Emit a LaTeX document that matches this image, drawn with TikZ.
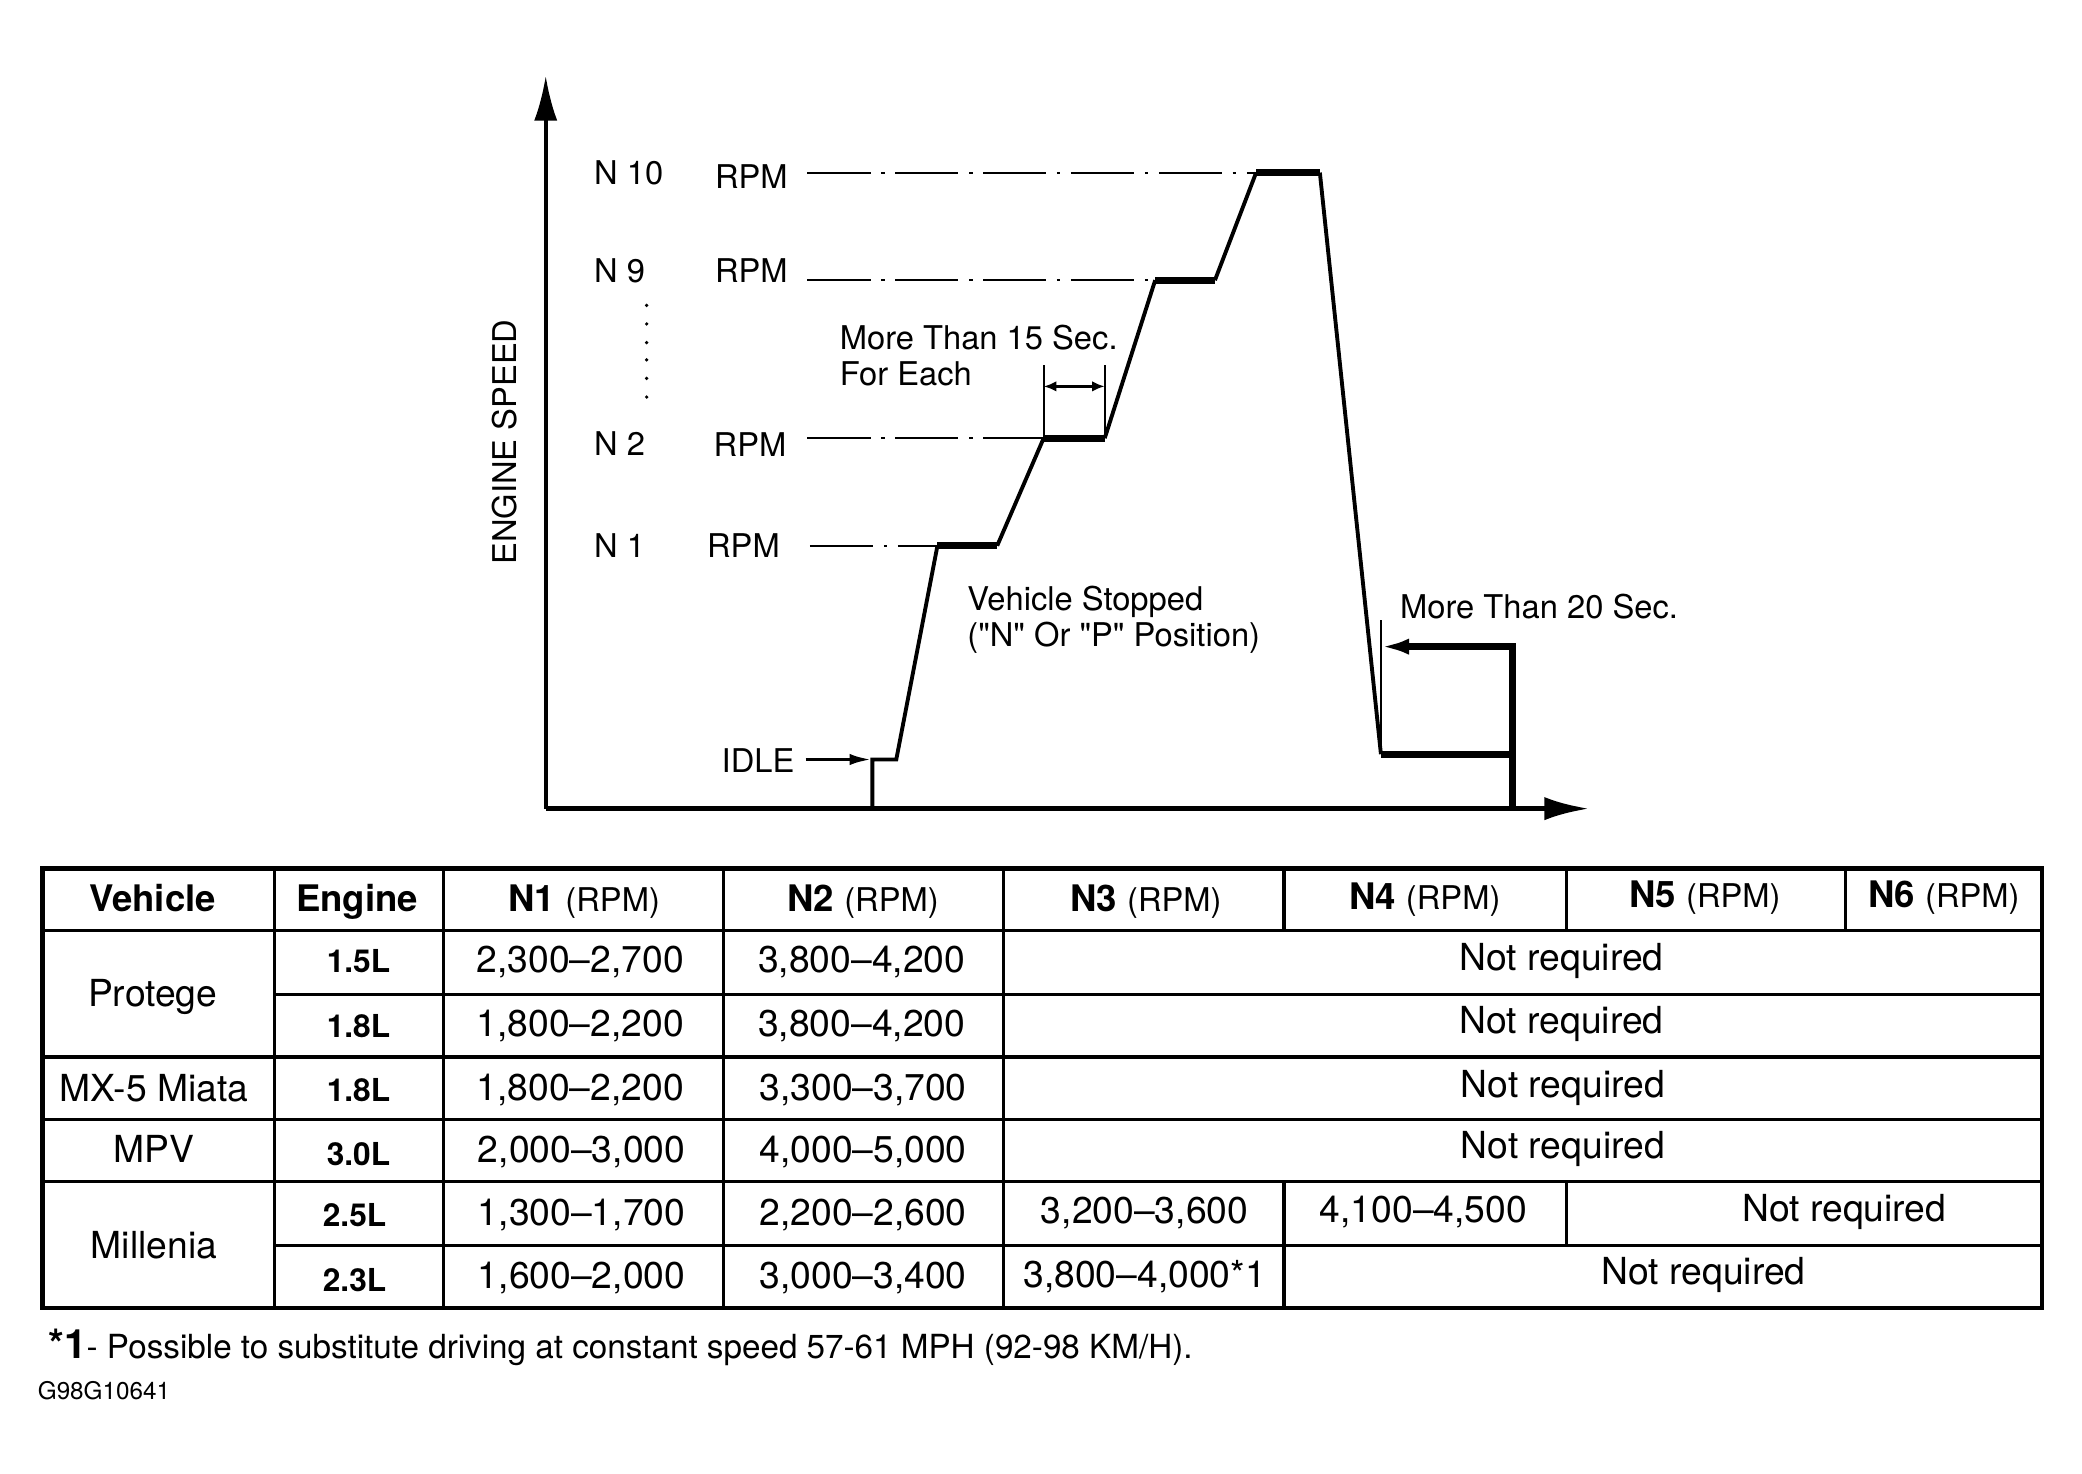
\documentclass[tikz,border=0pt]{standalone}
\usepackage{fontspec}
\setmainfont{TeX Gyre Heros}
\newfontfamily\quotefont{TeX Gyre Heros}
\usetikzlibrary{arrows.meta}

\tikzset{
  axisline/.style={line width=1.5pt},
  trace/.style={line width=1.1pt},
  dwell/.style={line width=1.9pt},
  refline/.style={line width=0.6pt,dash pattern=on 18pt off 3pt on 1pt off 3pt},
  thinline/.style={line width=0.5pt},
  lbl/.style={font=\fontsize{9.3}{10.2}\selectfont,inner sep=0pt},
  frame/.style={line width=1.3pt},
  gridline/.style={line width=0.9pt},
  cell/.style={font=\fontsize{10.6}{12}\selectfont,inner sep=0pt,text height=1.4ex,text depth=0pt},
  hdr/.style={font=\bfseries\fontsize{10.4}{12}\selectfont,inner sep=0pt,text height=1.4ex,text depth=0pt},
  eng/.style={font=\bfseries\fontsize{9}{11}\selectfont,inner sep=0pt,text height=1.4ex,text depth=0pt},
}
\newcommand{\rpmunit}{{\mdseries\fontsize{9.3}{10}\selectfont(RPM)}}
\newcommand{\dq}{{\quotefont"}}

\begin{document}
\begin{tikzpicture}[x=0.013278cm,y=-0.013278cm]
\useasboundingbox (0,0) rectangle (1568,1110);

% axes
\coordinate (O) at (411,609);
\coordinate (ytop) at (411,57);
\coordinate (xend) at (1197,609);
\draw[line width=1.1pt,-{Latex[length=12.8pt,width=6.6pt]}] (O) -- (ytop);
\draw[axisline,-{Latex[length=12.8pt,width=6.6pt]}] (O) -- (xend);
\node[lbl,rotate=90] (yaxis) at (380,333) {ENGINE SPEED};

% speed trace
\coordinate (s0) at (657,609);
\coordinate (i1) at (657,572);
\coordinate (i2) at (675,572);
\coordinate (a1) at (706,411);
\coordinate (a2) at (751,411);
\coordinate (b1) at (786,330);
\coordinate (b2) at (832,330);
\coordinate (c1) at (870,211);
\coordinate (c2) at (915,211);
\coordinate (d1) at (946,130);
\coordinate (d2) at (994,130);
\coordinate (e1) at (1040,568);
\coordinate (e2) at (1139,568);
\coordinate (e0) at (1139,609);
\draw[trace] (s0) -- (i1) -- (i2) -- (a1);
\draw[trace] (a2) -- (b1);
\draw[trace] (b2) -- (c1);
\draw[trace] (c2) -- (d1);
\draw[trace] (d2) -- (e1);
\draw[dwell] (a1) -- (a2);
\draw[dwell] (b1) -- (b2);
\draw[dwell] (c1) -- (c2);
\draw[dwell] (d1) -- (d2);
\draw[dwell] (e1) -- (e2);
\draw[dwell] (e0) -- (e2);

% speed levels
\node[lbl,anchor=west] (n10) at (447,130) {N 10};
\node[lbl,anchor=west] (r10) at (538,133) {RPM};
\node[lbl,anchor=west] (n9) at (447,204) {N 9};
\node[lbl,anchor=west] (r9) at (538,204) {RPM};
\node[lbl,anchor=west] (n2) at (447,334) {N 2};
\node[lbl,anchor=west] (r2) at (537,335) {RPM};
\node[lbl,anchor=west] (n1) at (447,411) {N 1};
\node[lbl,anchor=west] (r1) at (532,411) {RPM};
\draw[refline] (608,130) -- (d1);
\draw[refline] (608,211) -- (c1);
\draw[refline] (608,330) -- (b1);
\draw[refline] (610,411) -- (a1);
\foreach \dy in {230,244,258,271,285,299}
  \fill (487,\dy) circle (1.4);

% idle
\node[lbl,anchor=west] (idle) at (543,573) {IDLE};
\draw[line width=1.1pt,-{Latex[length=6.5pt,width=3.2pt]}] (idle.east) ++(8,-1) -- (i1);

% dwell time
\coordinate (t1) at (786,275);
\coordinate (t2) at (832,275);
\draw[thinline] (t1) -- (b1);
\draw[thinline] (t2) -- (b2);
\draw[line width=0.9pt,{Latex[length=3.6pt,width=3pt]}-{Latex[length=3.6pt,width=3pt]}] (786,291) -- (832,291);
\node[lbl,anchor=west,align=left] (dwelltxt) at (632,268) {More Than 15 Sec.\\For Each};
\node[lbl,anchor=west,align=left] (stoptxt) at (728,467) {Vehicle Stopped\\(\dq N\dq{} Or \dq P\dq{} Position)};

% cool down
\coordinate (f1) at (1139,487);
\coordinate (f2) at (1040,487);
\draw[thinline] (1040,467) -- (e1);
\draw[dwell,-{Latex[length=8pt,width=4.6pt]}] (e2) -- (f1) -- (f2);
\node[lbl,anchor=west] (cooltxt) at (1054,457) {More Than 20 Sec.};

% table
\draw[frame] (32,654) rectangle (1538,985);
\draw[gridline] (32,701) -- (1538,701);
\draw[gridline] (207,749) -- (1538,749);
\draw[gridline] (32,796) -- (1538,796);
\draw[gridline] (32,843) -- (1538,843);
\draw[gridline] (32,890) -- (1538,890);
\draw[gridline] (207,938) -- (1538,938);
\draw[gridline] (207,654) -- (207,985);
\draw[gridline] (334,654) -- (334,985);
\draw[gridline] (545,654) -- (545,985);
\draw[gridline] (756,654) -- (756,985);
\draw[gridline] (967,654) -- (967,701);
\draw[gridline] (1180,654) -- (1180,701);
\draw[gridline] (1390,654) -- (1390,701);
\draw[gridline] (967,890) -- (967,985);
\draw[gridline] (1180,890) -- (1180,938);

\node[hdr] (hveh) at (115,677) {Vehicle};
\node[hdr] (heng) at (269,677) {Engine};
\node[hdr] (hn1) at (440,677) {N1 \rpmunit};
\node[hdr] (hn2) at (650,677) {N2 \rpmunit};
\node[hdr] (hn3) at (863,677) {N3 \rpmunit};
\node[hdr] (hn4) at (1073,675) {N4 \rpmunit};
\node[hdr] (hn5) at (1284,674) {N5 \rpmunit};
\node[hdr] (hn6) at (1464,674) {N6 \rpmunit};

\node[cell] (protege) at (115,748) {Protege};
\node[eng] (p15) at (270,723) {1.5L};
\node[cell] (p15a) at (437,723) {2,300--2,700};
\node[cell] (p15b) at (649,723) {3,800--4,200};
\node[cell] (p15c) at (1176,721) {Not required};
\node[eng] (p18) at (270,772) {1.8L};
\node[cell] (p18a) at (437,771) {1,800--2,200};
\node[cell] (p18b) at (649,771) {3,800--4,200};
\node[cell] (p18c) at (1176,769) {Not required};

\node[cell] (miata) at (116,820) {MX-5 Miata};
\node[eng] (m18) at (270,820) {1.8L};
\node[cell] (m18a) at (437,819) {1,800--2,200};
\node[cell] (m18b) at (650,819) {3,300--3,700};
\node[cell] (m18c) at (1177,817) {Not required};

\node[cell] (mpv) at (116,866) {MPV};
\node[eng] (v30) at (270,868) {3.0L};
\node[cell] (v30a) at (438,866) {2,000--3,000};
\node[cell] (v30b) at (650,866) {4,000--5,000};
\node[cell] (v30c) at (1177,863) {Not required};

\node[cell] (millenia) at (116,938) {Millenia};
\node[eng] (l25) at (267,914) {2.5L};
\node[cell] (l25a) at (438,913) {1,300--1,700};
\node[cell] (l25b) at (650,913) {2,200--2,600};
\node[cell] (l25c) at (862,912) {3,200--3,600};
\node[cell] (l25d) at (1072,911) {4,100--4,500};
\node[cell] (l25e) at (1389,910) {Not required};
\node[eng] (l23) at (267,963) {2.3L};
\node[cell] (l23a) at (438,961) {1,600--2,000};
\node[cell] (l23b) at (650,961) {3,000--3,400};
\node[cell] (l23c) at (862,960) {3,800--4,000*1};
\node[cell] (l23d) at (1283,958) {Not required};

% notes
\node[anchor=west,inner sep=0pt,font=\fontsize{9.45}{11}\selectfont] (note) at (36,1015)
  {{\bfseries\fontsize{11.5}{12}\selectfont *1}- Possible to substitute driving at constant speed 57-61 MPH (92-98 KM/H).};
\node[anchor=west,inner sep=0pt,font=\fontsize{6.9}{8}\selectfont] (figid) at (28,1047) {G98G10641};
\end{tikzpicture}
\end{document}
